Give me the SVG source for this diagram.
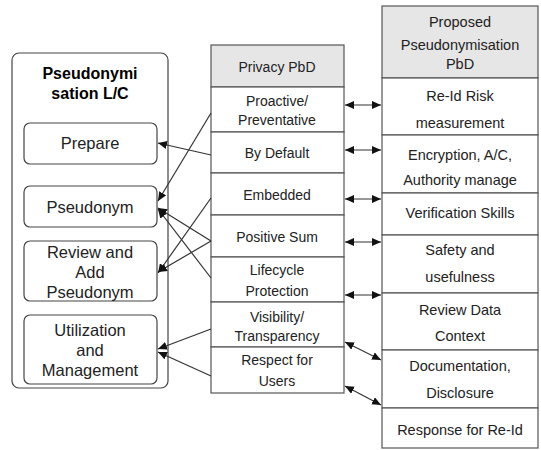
<svg xmlns="http://www.w3.org/2000/svg" width="541" height="450" viewBox="0 0 541 450">
<style>
text{font-family:"Liberation Sans",Arial,sans-serif;fill:#222;text-anchor:middle}
.l{font-size:16.5px}
.t{font-size:16px;font-weight:bold;fill:#000}
.m{font-size:14px}
.r{font-size:14.5px}
.box{fill:#fff;stroke:#444;stroke-width:1.2}
.hdr{fill:#e6e6e6;stroke:#555;stroke-width:1.2}
.cell{fill:#fff;stroke:#555;stroke-width:1.2}
.c{stroke:#333;stroke-width:1.2;fill:none}
</style>
<defs>
<marker id="ah" markerUnits="userSpaceOnUse" markerWidth="10" markerHeight="8" refX="9" refY="4" orient="auto-start-reverse">
<path d="M0,0 L9,4 L0,8 z" fill="#111"/>
</marker>
</defs>

<g id="lifecycle">
<rect class="box" x="12" y="53" width="156" height="335" rx="7"/>
<text class="t" x="90" y="79">Pseudonymi</text>
<text class="t" x="90" y="99">sation L/C</text>
</g>
<g id="prepare">
<rect class="box" x="24" y="123" width="133" height="41" rx="6"/>
<text class="l" x="90" y="149">Prepare</text>
</g>
<g id="pseudonym">
<rect class="box" x="24" y="186" width="133" height="41" rx="6"/>
<text class="l" x="90" y="213">Pseudonym</text>
</g>
<g id="review">
<rect class="box" x="24" y="241" width="133" height="60" rx="6"/>
<text class="l" x="90" y="258">Review and</text>
<text class="l" x="90" y="278">Add</text>
<text class="l" x="90" y="298">Pseudonym</text>
</g>
<g id="utilization">
<rect class="box" x="24" y="315" width="133" height="69" rx="6"/>
<text class="l" x="90" y="336">Utilization</text>
<text class="l" x="90" y="356">and</text>
<text class="l" x="90" y="376">Management</text>
</g>

<g id="privacy-pbd">
<rect class="hdr" x="211" y="45" width="133" height="42"/>
<text class="m" x="277" y="72">Privacy PbD</text>
</g>
<g id="proactive">
<rect class="cell" x="211" y="87" width="133" height="45"/>
<text class="m" x="277" y="106">Proactive/</text>
<text class="m" x="277" y="125">Preventative</text>
</g>
<g id="bydefault">
<rect class="cell" x="211" y="132" width="133" height="41"/>
<text class="m" x="277" y="158">By Default</text>
</g>
<g id="embedded">
<rect class="cell" x="211" y="173" width="133" height="42"/>
<text class="m" x="277" y="200">Embedded</text>
</g>
<g id="positivesum">
<rect class="cell" x="211" y="215" width="133" height="42"/>
<text class="m" x="277" y="242">Positive Sum</text>
</g>
<g id="lifecycleprot">
<rect class="cell" x="211" y="257" width="133" height="45"/>
<text class="m" x="277" y="275">Lifecycle</text>
<text class="m" x="277" y="296">Protection</text>
</g>
<g id="visibility">
<rect class="cell" x="211" y="302" width="133" height="45"/>
<text class="m" x="277" y="322">Visibility/</text>
<text class="m" x="277" y="341">Transparency</text>
</g>
<g id="respect">
<rect class="cell" x="211" y="347" width="133" height="46"/>
<text class="m" x="277" y="365">Respect for</text>
<text class="m" x="277" y="386">Users</text>
</g>

<g id="proposed">
<rect class="hdr" x="382" y="6" width="156" height="72"/>
<text class="r" x="460" y="27">Proposed</text>
<text class="r" x="460" y="50">Pseudonymisation</text>
<text class="r" x="460" y="69">PbD</text>
</g>
<g id="reid">
<rect class="cell" x="382" y="78" width="156" height="57"/>
<text class="r" x="460" y="101">Re-Id Risk</text>
<text class="r" x="460" y="128">measurement</text>
</g>
<g id="encryption">
<rect class="cell" x="382" y="135" width="156" height="58"/>
<text class="r" x="460" y="160">Encryption, A/C,</text>
<text class="r" x="460" y="185">Authority manage</text>
</g>
<g id="verification">
<rect class="cell" x="382" y="193" width="156" height="42"/>
<text class="r" x="460" y="218">Verification Skills</text>
</g>
<g id="safety">
<rect class="cell" x="382" y="235" width="156" height="58"/>
<text class="r" x="460" y="255">Safety and</text>
<text class="r" x="460" y="282">usefulness</text>
</g>
<g id="reviewdata">
<rect class="cell" x="382" y="293" width="156" height="57"/>
<text class="r" x="460" y="315">Review Data</text>
<text class="r" x="460" y="341">Context</text>
</g>
<g id="documentation">
<rect class="cell" x="382" y="350" width="156" height="58"/>
<text class="r" x="460" y="371">Documentation,</text>
<text class="r" x="460" y="398">Disclosure</text>
</g>
<g id="response">
<rect class="cell" x="382" y="408" width="156" height="40"/>
<text class="r" x="460" y="435">Response for Re-Id</text>
</g>

<g id="connectors">
<line class="c" x1="211" y1="155" x2="158" y2="143" marker-end="url(#ah)"/>
<line class="c" x1="211" y1="113" x2="158" y2="201" marker-end="url(#ah)"/>
<line class="c" x1="211" y1="198" x2="158" y2="273" marker-end="url(#ah)"/>
<line class="c" x1="211" y1="241" x2="158" y2="208" marker-end="url(#ah)"/>
<line class="c" x1="211" y1="241" x2="158" y2="272" marker-end="url(#ah)"/>
<line class="c" x1="211" y1="278" x2="158" y2="209" marker-end="url(#ah)"/>
<line class="c" x1="211" y1="329" x2="158" y2="349" marker-end="url(#ah)"/>
<line class="c" x1="211" y1="376" x2="158" y2="352" marker-end="url(#ah)"/>

<line class="c" x1="345" y1="105" x2="381" y2="105" marker-start="url(#ah)" marker-end="url(#ah)"/>
<line class="c" x1="345" y1="150" x2="381" y2="150" marker-start="url(#ah)" marker-end="url(#ah)"/>
<line class="c" x1="345" y1="199" x2="381" y2="199" marker-start="url(#ah)" marker-end="url(#ah)"/>
<line class="c" x1="345" y1="242" x2="381" y2="242" marker-start="url(#ah)" marker-end="url(#ah)"/>
<line class="c" x1="345" y1="295" x2="381" y2="295" marker-start="url(#ah)" marker-end="url(#ah)"/>
<line class="c" x1="345" y1="342" x2="381" y2="360" marker-start="url(#ah)" marker-end="url(#ah)"/>
<line class="c" x1="345" y1="386" x2="381" y2="405" marker-start="url(#ah)" marker-end="url(#ah)"/>
</g>
</svg>
